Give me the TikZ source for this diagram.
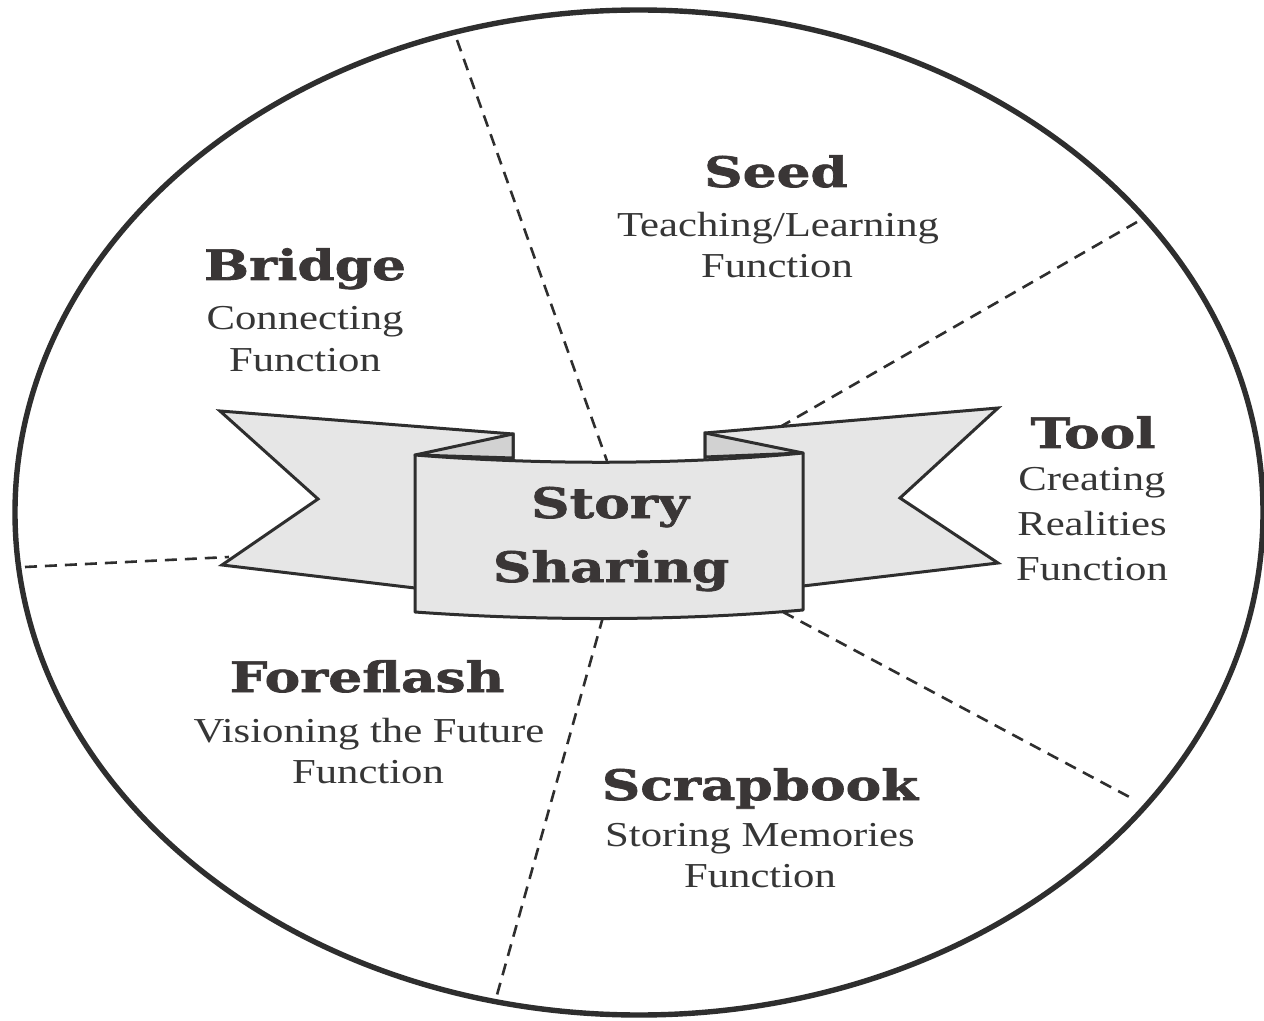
\documentclass[tikz,border=0pt]{standalone}
\usepackage{fontspec}
\setmainfont{Liberation Serif}[FakeStretch=1.22]
\newfontfamily\slab{DejaVu Serif}[FakeStretch=1.27, FakeBold=1.6]
\definecolor{ink}{HTML}{2E2E2E}
\definecolor{txt}{HTML}{363636}
\definecolor{ttl}{HTML}{3A3636}
\definecolor{band}{HTML}{E6E6E6}
\definecolor{fold}{HTML}{D2D2D2}
\tikzset{
  body/.style={anchor=base, inner sep=0pt, text=txt, font=\fontsize{17.5}{21}\selectfont},
  title/.style={anchor=base, inner sep=0pt, text=ttl, font=\slab\bfseries\fontsize{21}{25}\selectfont},
  divider/.style={draw=ink, line width=1.3pt, dash pattern=on 6pt off 4pt},
  ribbon/.style={draw=ink, line width=1.5pt, line join=miter, fill=band},
  panel/.style={draw=ink, line width=1.5pt, line join=round, fill=band},
  foldpart/.style={draw=ink, line width=1.5pt, line join=round, fill=fold},
}
\begin{document}
\begin{tikzpicture}[x=0.5pt, y=-0.5pt]
\useasboundingbox (0,0) rectangle (1264,1021);
\fill[white] (0,0) rectangle (1264,1021);
% outer ellipse
\draw[ink, line width=2.7pt] (639,512.5) ellipse [x radius=312pt, y radius=251.25pt];

% named end points of dividers
\coordinate (d1a) at (457,40);   \coordinate (d1b) at (607,461);
\coordinate (d2a) at (1137,222); \coordinate (d2b) at (780,427);
\coordinate (d3a) at (25,567);   \coordinate (d3b) at (229,557);
\coordinate (d4a) at (603,617);  \coordinate (d4b) at (495,1002);
\coordinate (d5a) at (783,612);  \coordinate (d5b) at (1135,800);
\draw[divider] (d1a) -- (d1b);
\draw[divider] (d2a) -- (d2b);
\draw[divider] (d3a) -- (d3b);
\draw[divider] (d4a) -- (d4b);
\draw[divider] (d5a) -- (d5b);

% left flag
\draw[ribbon] (220,411) -- (513,434) -- (513,590) -- (415,588) -- (222,565) -- (318,499) -- cycle;
% right flag
\draw[ribbon] (998,408) -- (705,433) -- (705,588) -- (803,586) -- (998,563) -- (900,498) -- cycle;
% folds
\draw[foldpart] (513,434) -- (415,455) -- (513,458) -- cycle;
\draw[foldpart] (705,433) -- (803,453) -- (705,457) -- cycle;
% central panel
\draw[panel] (415,455) .. controls (540,465) and (680,465) .. (803,453)
  -- (803,610) .. controls (680,621) and (540,621) .. (415,612) -- cycle;

% centre title
\node[title] (story) at (610,518) {Story};
\node[title] (sharing) at (611,582) {Sharing};

% Seed
\node[title] (seedT) at (776,187) {Seed};
\node[body] (seed1) at (778,237) {Teaching/Learning};
\node[body] (seed2) at (777,278) {Function};
% Bridge
\node[title] (bridgeT) at (305,280) {Bridge};
\node[body] (bridge1) at (305,330) {Connecting};
\node[body] (bridge2) at (305,372) {Function};
% Tool
\node[title] (toolT) at (1093,448) {Tool};
\node[body] (tool1) at (1092,491) {Creating};
\node[body] (tool2) at (1092,536) {Realities};
\node[body] (tool3) at (1092,581) {Function};
% Foreflash
\node[title] (foreT) at (367,692) {Foreflash};
\node[body] (fore1) at (369,742) {Visioning the Future};
\node[body] (fore2) at (368,783) {Function};
% Scrapbook
\node[title] (scrapT) at (760,800) {Scrapbook};
\node[body] (scrap1) at (760,846) {Storing Memories};
\node[body] (scrap2) at (760,887) {Function};
\end{tikzpicture}
\end{document}
